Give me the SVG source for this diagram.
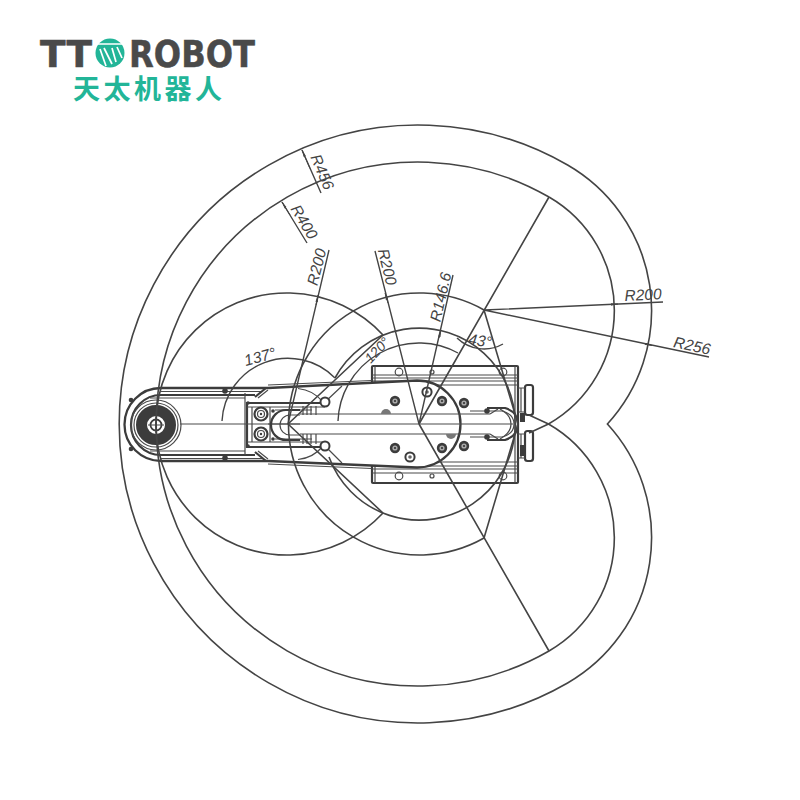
<svg xmlns="http://www.w3.org/2000/svg" width="800" height="800" viewBox="0 0 800 800">
<style>
.c{fill:none;stroke:#444;stroke-width:1.6}
.d{fill:none;stroke:#444;stroke-width:1.4}
.r{fill:none;stroke:#4a4a4a;stroke-width:1.2}
.t{fill:none;stroke:#3c3c3c;stroke-width:2.2}
.k{fill:#3c3c3c;stroke:none}
.a{fill:none;stroke:#444;stroke-width:1;marker-end:url(#ar)}
.lg{font-family:"DejaVu Sans",sans-serif;font-weight:700;font-size:38px;fill:#4a4a4a;stroke:#4a4a4a;stroke-width:.5}
text.dim{font-family:"Liberation Sans",Arial,sans-serif;font-style:italic;font-size:15.5px;fill:#444;text-anchor:middle}
</style>
<defs>
<marker id="ar" markerUnits="userSpaceOnUse" markerWidth="8" markerHeight="4" refX="7" refY="2" orient="auto"><path d="M0 .8L7 2L0 3.2z" fill="#444"/></marker>
<g id="hole"><circle r="5.2" class="k"/><circle r="2.6" fill="#aaa"/><circle r="1.1" fill="#333"/></g>
<g id="hole2"><circle r="4.6" fill="#fff" stroke="#3c3c3c" stroke-width="2"/><circle r="1.8" fill="#666"/></g>
</defs>
<rect width="800" height="800" fill="#fff"/>
<g id="logo">
<text class="lg" x="40" y="67" textLength="52" lengthAdjust="spacingAndGlyphs">TT</text>
<g id="logo-mark"><circle cx="110" cy="53" r="14.500" fill="#22b598"/>
<path d="M95 44L125 44M100 49L106 66M104 48L112 64M112 48L116 62M117 47L122 58" fill="none" stroke="#fff" stroke-width="1.700"/></g>
<text class="lg" x="129" y="67" textLength="126" lengthAdjust="spacingAndGlyphs">ROBOT</text>
<text x="73" y="98.500" textLength="149" font-family="'Noto Sans CJK SC',sans-serif" font-weight="700" font-size="27" fill="#22b598">天太机器人</text>
</g>
<g id="robot">
<g id="base">
<rect x="372" y="366" width="146" height="117" class="t" rx="1"/>
<path class="r" d="M372 375H518M372 378H518M372 381H518M372 385H518M372 462H518M372 466H518M372 469H518M372 473H518M375 366V483M515 366V483"/>
<circle cx="399" cy="372" r="3.800" class="r" fill="#fff"/><circle cx="432" cy="372" r="2" class="r"/><circle cx="503" cy="372" r="3.800" class="r"/>
<circle cx="399" cy="476" r="3.800" class="r"/><circle cx="432" cy="476" r="2" class="r"/><circle cx="503" cy="476" r="3.800" class="r"/>
</g>
<g id="link-1">
<path d="M268 388L417 380.500A43.500 43.500 0 0 1 417 467.500L268 461" fill="#fff" stroke="#3c3c3c" stroke-width="2.300"/>
<path class="r" d="M268 385L372 380.500M268 464L372 468.500"/>
<path class="r" d="M323 402A37 37 0 0 0 298 388.500M323 446A37 37 0 0 1 298 459.500M325 402L342 386M325 446L342 463"/>
<path class="r" d="M300 414H490M300 434H490M180 424H513"/>
<use href="#hole" x="395" y="401"/><use href="#hole" x="442" y="401"/><use href="#hole2" x="427" y="392"/><use href="#hole" x="464" y="403"/>
<use href="#hole" x="395" y="448"/><use href="#hole" x="442" y="448"/><use href="#hole2" x="410" y="457"/><use href="#hole" x="464" y="446"/>
<path d="M381 414A5 5 0 0 1 391 414z" fill="#777"/><path d="M446 434A5 5 0 0 0 456 434z" fill="#777"/>
</g>
<g id="cable-end">
<path class="t" d="M487 408H505Q518 412 518 424Q518 436 505 440H487"/>
<path class="r" d="M470 411H502Q514 414 514 424Q514 434 502 437H470"/>
<path class="r" d="M500 409Q511 415 511 424Q511 433 500 439"/>
<circle cx="487" cy="411" r="2.800" class="k"/><circle cx="487" cy="437" r="2.800" class="k"/>
<path class="r" d="M490 414L498 409M490 434L498 439"/>
</g>
<g id="connectors-right">
<rect x="525" y="385" width="8" height="30" rx="2.500" class="t" fill="#fff"/><rect x="525" y="431" width="8" height="30" rx="2.500" class="t" fill="#fff"/>
<path class="r" d="M518 388H525M518 412H525M518 434H525M518 458H525M521 388V412M521 434V458"/>
<rect x="520" y="413" width="5" height="9" class="k"/><rect x="520" y="445" width="5" height="11" class="k"/>
</g>
<g id="link-2">
<path d="M268 388H161A36.500 36.500 0 0 0 161 461H268" fill="#fff" stroke="#3c3c3c" stroke-width="2.300"/>
<path class="t" d="M255 395H161A30 30 0 0 0 161 455H255"/>
<path class="r" d="M161 391.500H262M161 458.500H262M150 398H245M150 451H245M245 393V455"/>
<path class="t" d="M266 388L255 397M266 461L255 452"/>
<path class="r" d="M268 390L258 398M268 459L258 451"/>
<path d="M330 403H247V447H330" fill="none" stroke="#3c3c3c" stroke-width="2.200"/>
<path class="r" d="M180 424H300M252 407H270V442H252zM275 410H312M275 439H312M247 407H325M247 442H325"/>
<path class="r" d="M300 415H290A10 10 0 0 0 290 435H300"/>
<path class="t" d="M300 410H286A15 15 0 0 0 286 440H300"/>
<path class="r" d="M303 406V415M307 406V415M311 406V415M316 406V415M303 434V444M307 434V444M311 434V444M316 434V444"/>
<circle cx="261" cy="414" r="6.500" class="t"/><circle cx="261" cy="414" r="3.500" class="r"/><circle cx="261" cy="414" r="1.200" class="k"/>
<circle cx="261" cy="434" r="6.500" class="t"/><circle cx="261" cy="434" r="3.500" class="r"/><circle cx="261" cy="434" r="1.200" class="k"/>
<circle cx="273" cy="411" r="1.800" class="k"/><circle cx="273" cy="439" r="1.800" class="k"/><circle cx="248" cy="403" r="1.800" class="k"/><circle cx="248" cy="446" r="1.800" class="k"/>
<circle cx="325" cy="402" r="4.500" fill="#fff" stroke="#3c3c3c" stroke-width="2"/><circle cx="325" cy="446" r="4.500" fill="#fff" stroke="#3c3c3c" stroke-width="2"/>
<circle cx="225" cy="391" r="2.800" class="k"/><circle cx="225" cy="458" r="2.800" class="k"/><circle cx="131" cy="400" r="2.300" class="k"/><circle cx="131" cy="449" r="2.300" class="k"/>
<circle cx="156" cy="425" r="25" fill="#fff" class="r"/>
<circle cx="156" cy="425" r="14.500" fill="none" stroke="#3c3c3c" stroke-width="11"/>
<circle cx="156" cy="425" r="22" class="r"/>
<circle cx="156" cy="425" r="5.500" fill="#fff" stroke="#3c3c3c" stroke-width="1.800"/>
<path class="r" d="M148 425H164M156 417V433"/>
</g>
</g>
<g id="workspace">
<path class="c" d="M567.600 165A299 299 0 1 0 567.600 683A168 168 0 0 0 607.400 424A168 168 0 0 0 567.600 165Z"/>
<path class="c" d="M549 197A262 262 0 1 0 549 651A131 131 0 0 0 548.500 424L529 415"/>
<path class="c" d="M549 197A131 131 0 0 1 548.500 424L529 433"/>
<path class="c" d="M383 335A131 131 0 1 0 383 513"/>
<path class="c" d="M484 310A131 131 0 1 0 484 538"/>
<path class="c" d="M335 378A96 96 0 1 1 329 457"/>
<path class="c" d="M419 424L549 197M419 424L549 651M484 310L518 424M484 538L518 424"/>
<path class="c" d="M288 424L383 335M288 424L383 513"/>
</g>
<g id="dimensions">
<path class="d" d="M302 150L321 193M282 202L307 243M288 424L329 250M419 424L375 251M419 424L453 275M484 310L663 302M484 310L709 357"/>
<path class="a" d="M310 168.500L302 150"/><path class="a" d="M290 215L282 202"/><path class="a" d="M316 305L318 295"/><path class="a" d="M388 303L385 293"/><path class="a" d="M439 338L441 330"/><path class="a" d="M610 304.500L618 304"/><path class="a" d="M644 343.500L652 345.500"/>
<path class="d" d="M222 421A66 66 0 0 1 335 378"/>
<path class="d" d="M338 421A81 81 0 0 1 458 353"/>
<path class="d" d="M457 338A39 39 0 0 0 503 344"/>
<text class="dim" transform="translate(322 172) rotate(67)" y="5">R456</text>
<text class="dim" transform="translate(304 222) rotate(59)" y="5">R400</text>
<text class="dim" transform="translate(317 267) rotate(-76)" y="5">R200</text>
<text class="dim" transform="translate(387 267) rotate(76)" y="5">R200</text>
<text class="dim" transform="translate(441 297) rotate(-77)" y="5">R146.6</text>
<text class="dim" transform="translate(260 357) rotate(-15)" y="5">137°</text>
<text class="dim" transform="translate(377 350) rotate(-47)" y="5" style="font-size:14px">120°</text>
<text class="dim" transform="translate(480 341) rotate(8)" y="5">43°</text>
<text class="dim" transform="translate(643 295) rotate(-3)" y="5">R200</text>
<text class="dim" transform="translate(692 346) rotate(12)" y="5">R256</text>
</g>
</svg>
